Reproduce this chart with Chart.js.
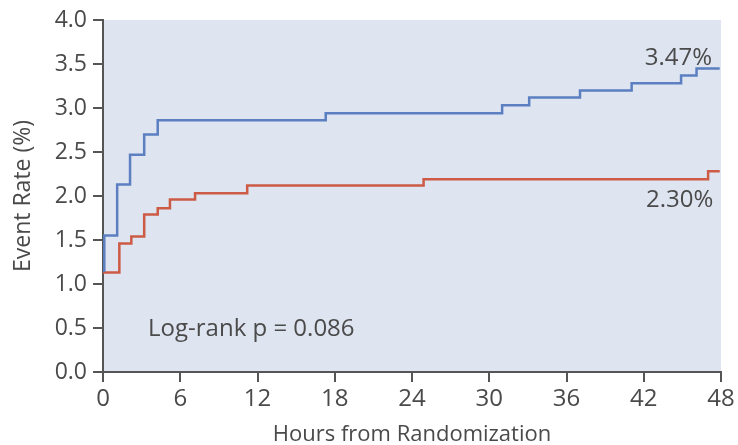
<!DOCTYPE html>
<html>
<head>
<meta charset="utf-8">
<script src="https://cdn.jsdelivr.net/npm/chart.js@4/dist/chart.umd.min.js"></script>
<style>
  html, body { margin: 0; padding: 0; background: #ffffff; }
  #wrap { width: 738px; height: 445px; }
</style>
</head>
<body>
<div id="wrap"><canvas id="kmChart" width="738" height="445"></canvas></div>
<script>
// courbe bleue (taux d'événements, %)
const hoursBlue = [0, 0.1, 1.1, 2.1, 3.2, 4.25, 17.3, 31.0, 33.1, 37.05, 41.06, 44.9, 46.1, 47.9];
const rateBlue  = [1.15, 1.55, 2.13, 2.47, 2.70, 2.86, 2.94, 3.03, 3.12, 3.20, 3.28, 3.37, 3.45, 3.45];

// courbe rouge
const hoursRed = [0, 1.27, 2.2, 3.2, 4.25, 5.2, 7.15, 11.2, 24.9, 47.0, 47.9];
const rateRed  = [1.13, 1.46, 1.54, 1.79, 1.86, 1.96, 2.03, 2.12, 2.19, 2.28, 2.28];

const xTicks = [0, 6, 12, 18, 24, 30, 36, 42, 48];
const yTicks = [0, 0.5, 1, 1.5, 2, 2.5, 3, 3.5, 4];

// textes posés sur le graphique : [texte, heure, taux, alignement]
const notes = [
  ["3.47%", 47.3, 3.57, "right"],
  ["2.30%", 47.4, 1.95, "right"],
  ["Log-rank p = 0.086", 3.5, 0.49, "left"]
];

const textColor = "#4a4a4a";
const axisColor = "#555555";

function toPoints(xs, ys) {
  return xs.map((x, i) => ({ x: x, y: ys[i] }));
}

// fond bleuté de la zone du graphique
const bgPlugin = {
  id: "bgPlugin",
  beforeDraw(chart) {
    const a = chart.chartArea;
    const ctx = chart.ctx;
    ctx.save();
    ctx.fillStyle = "#dee4f0";
    ctx.fillRect(a.left, a.top, a.right - a.left, a.bottom - a.top);
    ctx.restore();
  }
};

const notesPlugin = {
  id: "notesPlugin",
  afterDatasetsDraw(chart) {
    const ctx = chart.ctx;
    const sx = chart.scales.x;
    const sy = chart.scales.y;
    ctx.save();
    ctx.fillStyle = textColor;
    ctx.font = "24px 'Open Sans'";
    ctx.textBaseline = "middle";
    notes.forEach((n) => {
      ctx.textAlign = n[3];
      ctx.fillText(n[0], sx.getPixelForValue(n[1]), sy.getPixelForValue(n[2]));
    });
    ctx.restore();
  }
};

const ctx = document.getElementById("kmChart").getContext("2d");
new Chart(ctx, {
  type: "line",
  data: {
    datasets: [
      {
        label: "Courbe bleue",
        data: toPoints(hoursBlue, rateBlue),
        borderColor: "#5b7fc1",
        borderWidth: 2.5,
        stepped: true,
        pointRadius: 0,
        fill: false,
        clip: false
      },
      {
        label: "Courbe rouge",
        data: toPoints(hoursRed, rateRed),
        borderColor: "#cc5a44",
        borderWidth: 2.5,
        stepped: true,
        pointRadius: 0,
        fill: false,
        clip: false
      }
    ]
  },
  options: {
    responsive: false,
    animation: false,
    layout: { padding: { top: 20, right: 17, bottom: 0, left: 0 } },
    plugins: {
      legend: { display: false },
      tooltip: { enabled: false }
    },
    scales: {
      x: {
        type: "linear",
        min: 0,
        max: 48,
        afterBuildTicks(scale) {
          scale.ticks = xTicks.map((v) => ({ value: v }));
        },
        afterFit(scale) {
          scale.height = 73;
        },
        ticks: {
          color: textColor,
          font: { family: "Open Sans", size: 24 },
          padding: 3,
          maxRotation: 0
        },
        grid: {
          drawOnChartArea: false,
          tickLength: 10,
          color: axisColor,
          lineWidth: 2
        },
        border: { color: axisColor, width: 2 },
        title: {
          display: true,
          text: "Hours from Randomization",
          color: textColor,
          font: { family: "Open Sans", size: 22 },
          padding: { top: 0, bottom: -3 }
        }
      },
      y: {
        type: "linear",
        min: 0,
        max: 4,
        afterBuildTicks(scale) {
          scale.ticks = yTicks.map((v) => ({ value: v }));
        },
        afterFit(scale) {
          scale.width = 103;
        },
        ticks: {
          color: textColor,
          font: { family: "Open Sans", size: 23 },
          padding: 6,
          callback: (v) => Number(v).toFixed(1)
        },
        grid: {
          drawOnChartArea: false,
          tickLength: 10,
          color: axisColor,
          lineWidth: 2
        },
        border: { color: axisColor, width: 2 },
        title: {
          display: true,
          text: "Event Rate (%)",
          color: textColor,
          font: { family: "Open Sans", size: 23 },
          padding: { top: 10, bottom: 0 }
        }
      }
    }
  },
  plugins: [bgPlugin, notesPlugin]
});
</script>
</body>
</html>
